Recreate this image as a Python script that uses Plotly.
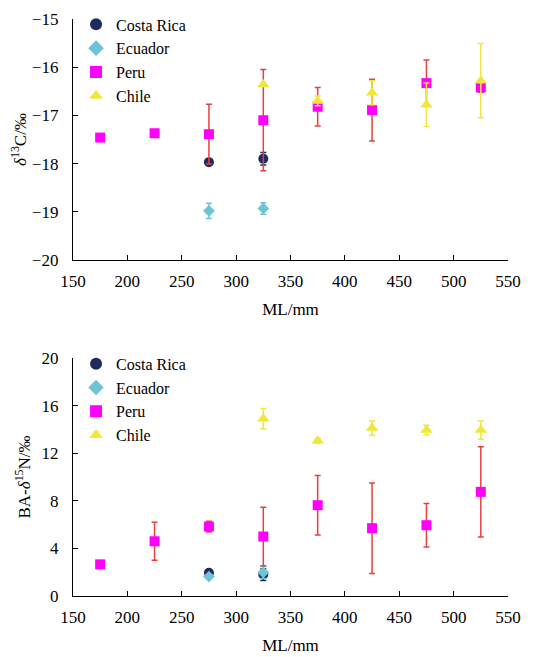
import plotly.graph_objects as go

ml = [175, 225, 275, 325, 375, 425, 475, 525]

# delta13C
cr_x = [275, 325]
cr_c = [-17.97, -17.90]
cr_c_err = [0.0, 0.13]
ec_x = [275, 325]
ec_c = [-18.98, -18.93]
ec_c_err = [0.16, 0.12]
pe_x = ml
pe_c = [-17.46, -17.37, -17.39, -17.10, -16.82, -16.89, -16.33, -16.42]
pe_c_err = [0.0, 0.0, 0.62, 1.05, 0.40, 0.64, 0.48, 0.10]
ch_x = [325, 375, 425, 475, 525]
ch_c = [-16.36, -16.70, -16.53, -16.78, -16.28]
ch_c_err = [0.0, 0.10, 0.25, 0.45, 0.77]

# BA-delta15N
cr_n = [1.96, 1.80]
cr_n_err = [0.1, 0.5]
ec_n = [1.63, 1.98]
ec_n_err = [0.15, 0.5]
pe_n = [2.66, 4.60, 5.83, 5.00, 7.63, 5.70, 5.95, 8.75]
pe_n_err = [0.0, 1.6, 0.45, 2.45, 2.5, 3.8, 1.83, 3.8]
ch_n = [14.90, 13.04, 14.11, 13.94, 13.94]
ch_n_err = [0.85, 0.2, 0.6, 0.4, 0.77]

names = ["Costa Rica", "Ecuador", "Peru", "Chile"]
colors = ["#1f2b5c", "#6cc5d2", "#ff00ff", "#f0e63c"]
ecolors = ["#1f2b5c", "#6cc5d2", "#e8403f", "#f0e63c"]
symbols = ["circle", "diamond", "square", "triangle-up"]
sizes = [10, 9, 10, 11]

FONT = "Times New Roman, Liberation Serif, serif"

fig = go.Figure()

top = [(cr_x, cr_c, cr_c_err), (ec_x, ec_c, ec_c_err), (pe_x, pe_c, pe_c_err), (ch_x, ch_c, ch_c_err)]
bot = [(cr_x, cr_n, cr_n_err), (ec_x, ec_n, ec_n_err), (pe_x, pe_n, pe_n_err), (ch_x, ch_n, ch_n_err)]

for i, (x, y, e) in enumerate(top):
    fig.add_trace(go.Scatter(
        x=x, y=y, mode="markers", name=names[i], legend="legend",
        marker=dict(symbol=symbols[i], size=sizes[i], color=colors[i]),
        error_y=dict(type="data", array=e, visible=True, color=ecolors[i], thickness=1.5, width=3),
        xaxis="x", yaxis="y"))

for i, (x, y, e) in enumerate(bot):
    fig.add_trace(go.Scatter(
        x=x, y=y, mode="markers", name=names[i], legend="legend2",
        marker=dict(symbol=symbols[i], size=sizes[i], color=colors[i]),
        error_y=dict(type="data", array=e, visible=True, color=ecolors[i], thickness=1.5, width=3),
        xaxis="x2", yaxis="y2"))

axis_common = dict(showline=True, linecolor="black", linewidth=1.3, ticks="inside",
                   ticklen=5, tickcolor="black", tickwidth=1.3, showgrid=False, zeroline=False,
                   tickfont=dict(family=FONT, size=17, color="black"), mirror=False,
                   automargin=False)

fig.update_layout(
    width=542, height=649,
    margin=dict(l=65, r=42, t=11, b=61, autoexpand=False),
    paper_bgcolor="white", plot_bgcolor="white",
    font=dict(family=FONT, size=17, color="black"),
    showlegend=True,
    xaxis=dict(domain=[0, 1], range=[150, 550], dtick=50, tick0=150, anchor="y",
               title=dict(text="ML/mm", font=dict(family=FONT, size=17), standoff=13),
               ticklabelstandoff=5, **axis_common),
    yaxis=dict(domain=[0.5823, 1], range=[-20, -15], dtick=1, anchor="x",
               title=dict(text="<i>δ</i><sup>13</sup>C/‰", font=dict(family=FONT, size=17), standoff=1),
               ticklabelstandoff=10, **axis_common),
    xaxis2=dict(domain=[0, 1], range=[150, 550], dtick=50, tick0=150, anchor="y2",
                title=dict(text="ML/mm", font=dict(family=FONT, size=17), standoff=13),
                ticklabelstandoff=5, **axis_common),
    yaxis2=dict(domain=[0, 0.4125], range=[0, 20], dtick=4, anchor="x2",
                title=dict(text="BA-<i>δ</i><sup>15</sup>N/‰", font=dict(family=FONT, size=17), standoff=6),
                ticklabelstandoff=10, **axis_common),
    legend=dict(x=0.007, y=1.02, xanchor="left", yanchor="top", bgcolor="rgba(0,0,0,0)",
                font=dict(family=FONT, size=16), tracegroupgap=0, itemsizing="constant"),
    legend2=dict(x=0.007, y=0.432, xanchor="left", yanchor="top", bgcolor="rgba(0,0,0,0)",
                 font=dict(family=FONT, size=16), tracegroupgap=0, itemsizing="constant"),
)

fig.write_html("out.html")
